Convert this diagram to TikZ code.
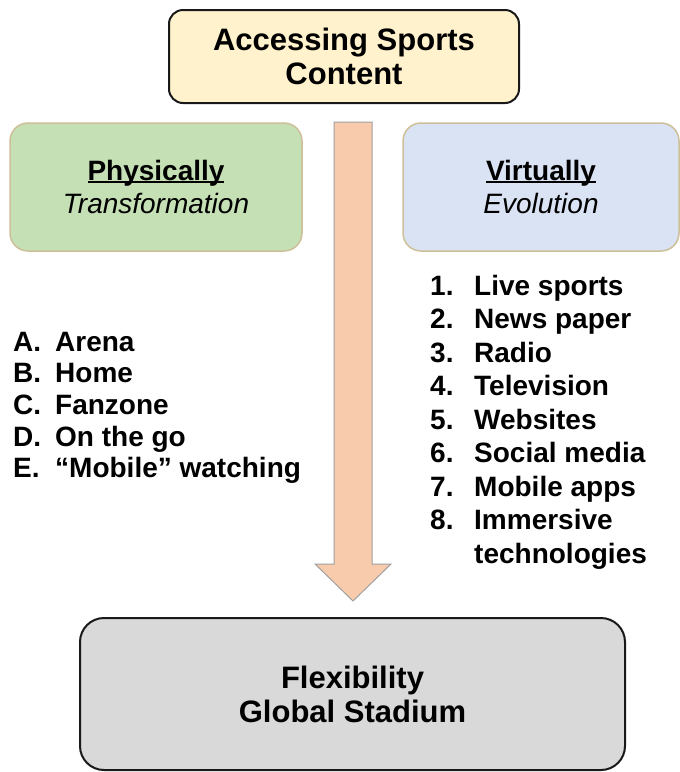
\documentclass[tikz,border=0pt]{standalone}
\usepackage{fontspec}
\setmainfont{Liberation Sans}
\usetikzlibrary{calc}
\definecolor{topfill}{HTML}{FFF2CC}
\definecolor{greenfill}{HTML}{C5E0B4}
\definecolor{bluefill}{HTML}{DAE3F3}
\definecolor{tanline}{HTML}{CDBF98}
\definecolor{arrowfill}{HTML}{F8CBAD}
\definecolor{arrowline}{HTML}{A0A0A0}
\definecolor{greyfill}{HTML}{D9D9D9}
\newcommand\thickul[1]{\leavevmode\setbox0\hbox{#1}\rlap{\rule[-2.2pt]{\wd0}{1.6pt}}\box0}
\begin{document}
\begin{tikzpicture}[x=1pt,y=-1pt,
  titlebox/.style={draw=black!90,line width=2pt,rounded corners=14pt,align=center,
    font=\fontsize{31}{34}\selectfont\bfseries,inner sep=0pt},
  sidebox/.style={draw=tanline,line width=1.5pt,rounded corners=18pt,align=center,
    font=\fontsize{28}{33}\selectfont,inner sep=0pt},
  listtext/.style={anchor=base west,inner sep=0pt,font=\fontsize{28}{33}\selectfont\bfseries},
  blockarrow/.style={fill=arrowfill,draw=arrowline,line width=1pt}]
\useasboundingbox (0,0) rectangle (680,772);
% top box
\node[titlebox,fill=topfill,minimum width=350pt,minimum height=93pt] (top) at (344,56.5)
  {Accessing Sports\\Content};
% arrow
\coordinate (as) at (353,122);
\node[inner sep=0pt] (tip) at (353,601) {};
\draw[blockarrow] ($(as)+(-19,0)$) -- ($(as)+(19,0)$) -- (372,564) -- (391,564) -- (tip.center)
  -- (315,564) -- (334,564) -- cycle;
% side boxes
\node[sidebox,fill=greenfill,minimum width=292pt,minimum height=128pt] (phys) at (156,187)
  {\textbf{\thickul{Physically}}\\\textit{Transformation}};
\node[sidebox,fill=bluefill,minimum width=276pt,minimum height=128pt] (virt) at (541,187)
  {\textbf{\thickul{Virtually}}\\\textit{Evolution}};
% bottom box
\node[titlebox,fill=greyfill,rounded corners=24pt,minimum width=545pt,minimum height=152pt] (bot) at (352.5,694)
  {Flexibility\\Global Stadium};
% left list
\foreach \k/\t [count=\i] in {A/Arena,B/Home,C/Fanzone,D/On the go,E/{\char"201C Mobile\char"201D\ watching}}{
  \node[listtext] (ln\i) at (13,{351+31.7*(\i-1)}) {\k.};
  \node[listtext] (lt\i) at (55,{351+31.7*(\i-1)}) {\t};
}
% right list
\foreach \t [count=\i] in {Live sports,News paper,Radio,Television,Websites,Social media,Mobile apps,Immersive}{
  \node[listtext] (rn\i) at (430,{295+33.5*(\i-1)}) {\i.};
  \node[listtext] (rt\i) at (474,{295+33.5*(\i-1)}) {\t};
}
\node[listtext] (rt9) at (474,{295+33.5*8}) {technologies};
\end{tikzpicture}
\end{document}
